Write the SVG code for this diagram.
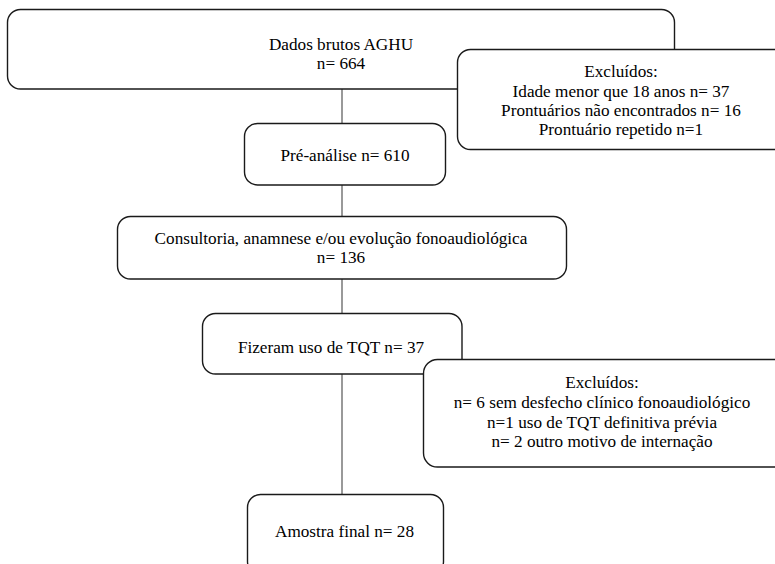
<svg xmlns="http://www.w3.org/2000/svg" width="775" height="564" viewBox="0 0 775 564">
<style>
.box{fill:#fff;stroke:#1a1a1a;stroke-width:1.4}
text{font-family:'Liberation Serif','Times New Roman',serif;font-size:17.2px;fill:#000;text-anchor:middle}
.c{stroke:#555;stroke-width:1.2;fill:none}
</style>
<rect width="775" height="564" fill="#fff"/>
<g id="connectors">
<line class="c" x1="342" y1="89" x2="342" y2="123"/>
<line class="c" x1="342" y1="185" x2="342" y2="216"/>
<line class="c" x1="342" y1="279" x2="342" y2="313"/>
<line class="c" x1="342" y1="374" x2="342" y2="494"/>
</g>
<g id="dados">
<rect class="box" x="7.5" y="9.5" width="667" height="79.5" rx="13"/>
<text x="341" y="49.5">Dados brutos AGHU</text>
<text x="341" y="68.5">n= 664</text>
</g>
<g id="excluidos1">
<rect class="box" x="457.5" y="49.5" width="330" height="100" rx="13"/>
<text x="621" y="77">Excluídos:</text>
<text x="621" y="96.5">Idade menor que 18 anos n= 37</text>
<text x="621" y="115.5">Prontuários não encontrados n= 16</text>
<text x="621" y="134.5">Prontuário repetido n=1</text>
</g>
<g id="preanalise">
<rect class="box" x="244.5" y="123.5" width="201" height="61.5" rx="13"/>
<text x="345" y="160.5">Pré-análise n= 610</text>
</g>
<g id="consultoria">
<rect class="box" x="117.5" y="216.5" width="449" height="62.5" rx="13"/>
<text x="341" y="243.5">Consultoria, anamnese e/ou evolução fonoaudiológica</text>
<text x="341" y="263">n= 136</text>
</g>
<g id="fizeram">
<rect class="box" x="202.5" y="313.5" width="259.5" height="60.5" rx="13"/>
<text x="331" y="353">Fizeram uso de TQT n= 37</text>
</g>
<g id="excluidos2">
<rect class="box" x="423.5" y="359.5" width="370" height="107.5" rx="14"/>
<text x="602" y="388">Excluídos:</text>
<text x="602" y="408">n= 6 sem desfecho clínico fonoaudiológico</text>
<text x="602" y="427.5">n=1 uso de TQT definitiva prévia</text>
<text x="602" y="447">n= 2 outro motivo de internação</text>
</g>
<g id="amostra">
<rect class="box" x="247.5" y="494.5" width="196" height="80" rx="13"/>
<text x="344.5" y="537">Amostra final n= 28</text>
</g>
</svg>
